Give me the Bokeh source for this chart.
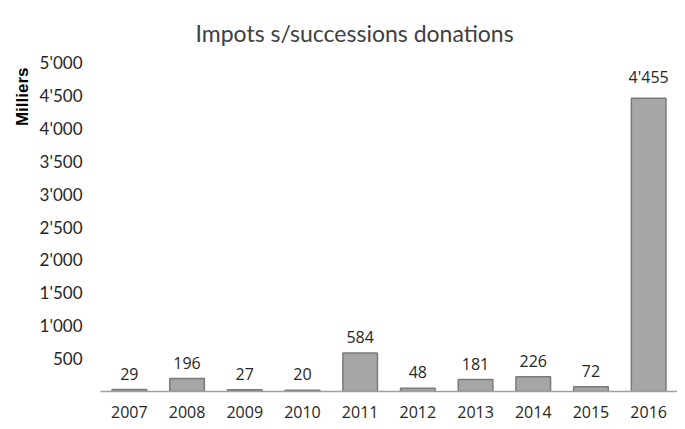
from bokeh.plotting import figure
from bokeh.models import ColumnDataSource, FixedTicker, Title, LabelSet
from bokeh.core.properties import value
from bokeh.embed import file_html
from bokeh.resources import INLINE

years = ["2007", "2008", "2009", "2010", "2011", "2012", "2013", "2014", "2015", "2016"]
values = [29, 196, 27, 20, 584, 48, 181, 226, 72, 4455]
y_ticks = [500, 1000, 1500, 2000, 2500, 3000, 3500, 4000, 4500, 5000]
y_tick_labels = ["500", "1'000", "1'500", "2'000", "2'500", "3'000", "3'500", "4'000", "4'500", "5'000"]

labels = [f"{v:,}".replace(",", "'") for v in values]
src = ColumnDataSource(dict(x=years, top=values, label=labels))

p = figure(x_range=years, y_range=(0, 5000), width=677, height=421,
           output_backend="svg", toolbar_location=None,
           min_border_left=100, min_border_right=0, min_border_top=0, min_border_bottom=30)

p.title.text = "Impots s/successions donations"
p.title.align = "left"
p.title.offset = 95
p.title.standoff = 32
p.title.text_line_height = 0.5
p.title.text_font = "Lato"
p.title.text_font_style = "normal"
p.title.text_font_size = "23px"
p.title.text_color = "#404040"

p.vbar(x="x", top="top", width=0.6, source=src,
       fill_color="#a6a6a6", line_color="#7a7a7a", line_width=1.5)

p.add_layout(LabelSet(x="x", y="top", text="label", source=src,
                      text_align="center", text_baseline="bottom", y_offset=10,
                      text_font=value("Open Sans"), text_font_size="16px", text_color="#262626"))

p.add_layout(Title(text="Milliers", align="right", offset=5, text_font="Liberation Sans",
                   text_font_style="bold", text_font_size="17px", text_color="#000000"), "left")

p.xgrid.visible = False
p.ygrid.visible = False
p.outline_line_color = None

p.yaxis.ticker = FixedTicker(ticks=y_ticks)
p.yaxis.major_label_overrides = {t: l for t, l in zip(y_ticks, y_tick_labels)}
p.yaxis.axis_line_color = None
p.yaxis.major_tick_line_color = None
p.yaxis.minor_tick_line_color = None
p.yaxis.major_label_standoff = 12
p.yaxis.major_label_text_font = "Lato"
p.yaxis.major_label_text_font_size = "17px"
p.yaxis.major_label_text_color = "#262626"

p.xaxis.axis_line_color = "#a0a0a0"
p.xaxis.axis_line_width = 1.5
p.xaxis.major_tick_line_color = None
p.xaxis.minor_tick_line_color = None
p.xaxis.major_label_standoff = 8
p.xaxis.major_label_text_font = "Open Sans"
p.xaxis.major_label_text_font_size = "16px"
p.xaxis.major_label_text_color = "#262626"

open("out.html", "w").write(file_html(p, INLINE))
